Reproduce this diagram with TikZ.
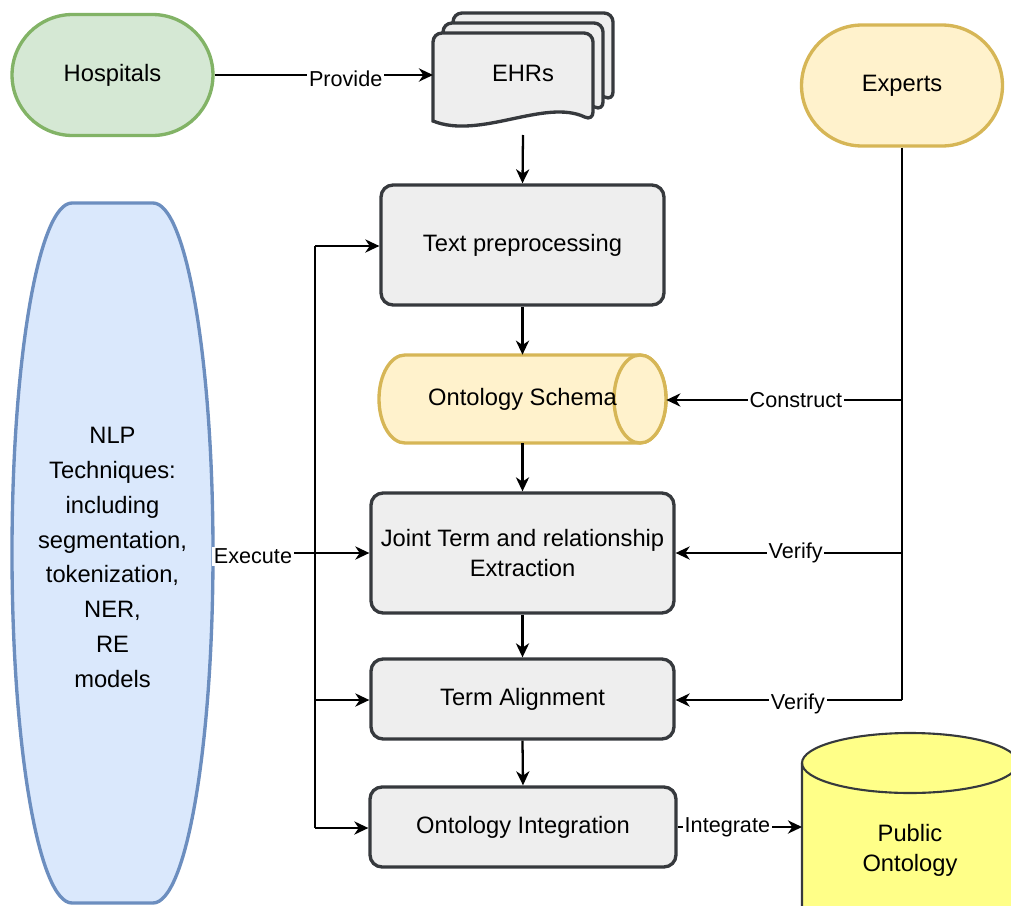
\documentclass[tikz,border=0pt]{standalone}
\usepackage{fontspec}
\setmainfont{Liberation Sans}
\usetikzlibrary{shapes.misc,arrows.meta}

\definecolor{grayfill}{HTML}{EEEEEE}
\definecolor{grayline}{HTML}{36393D}
\definecolor{greenfill}{HTML}{D5E8D4}
\definecolor{greenline}{HTML}{82B366}
\definecolor{yellowfill}{HTML}{FFF2CC}
\definecolor{yellowline}{HTML}{D6B656}
\definecolor{bluefill}{HTML}{DAE8FC}
\definecolor{blueline}{HTML}{6C8EBF}
\definecolor{pubfill}{HTML}{FFFF88}

\newcommand\bigtxt{\fontsize{13.5}{17}\selectfont}
\newcommand\nlptxt{\fontsize{13.5}{19.8}\selectfont}
\newcommand\lbltxt{\fontsize{12.3}{14}\selectfont}

\begin{document}
\begin{tikzpicture}[x=0.02cm,y=-0.02cm,
  every node/.style={font=\bigtxt, align=center, inner sep=0pt},
  box/.style={draw=grayline, fill=grayfill, line width=1.9pt,
    rounded corners=0.24cm},
  pill/.style={rounded rectangle, line width=1.9pt,
    minimum width=4.02cm, minimum height=2.42cm},
  doc/.style={draw=grayline, fill=grayfill, line width=1.9pt},
  ln/.style={line width=1.3pt},
  conn/.style={line width=1.3pt, -{Stealth[length=8pt,width=7.5pt,inset=2.5pt]}},
  lbl/.style={fill=white, font=\lbltxt, inner sep=1pt}]

\useasboundingbox (0,0) rectangle (1011,906);
\clip (0,0) rectangle (1011,906);

% sources
\node[pill, draw=greenline, fill=greenfill] (hosp) at (112.5,75) {Hospitals};
\node[pill, draw=yellowline, fill=yellowfill] (exp) at (902,85.5) {Experts};

% stack of EHR documents
\foreach \d in {20,10,0}{
  \begin{scope}[shift={(\d,-\d)}]
    \path[doc] (433,121) [rounded corners=0.18cm] -- (433,33) -- (593,33)
      -- (593,121) [sharp corners] .. controls (545,98) and (480,140) .. (433,121) -- cycle;
  \end{scope}
}
\node (ehr) at (523,73) {EHRs};
\coordinate (ehrW) at (433,75);
\coordinate (ehrS) at (523,135);

% processing steps
\node[box, minimum width=5.66cm, minimum height=2.4cm] (prep) at (522.5,245) {Text preprocessing};

% ontology schema (horizontal cylinder)
\path[draw=yellowline, fill=yellowfill, line width=1.9pt]
  (640,355) -- (405,355) arc[start angle=270, end angle=90, x radius=26, y radius=44]
  -- (640,443) arc[start angle=90, end angle=-90, x radius=26, y radius=44] -- cycle;
\path[draw=yellowline, fill=yellowfill, line width=1.9pt]
  (640,399) ellipse [x radius=26, y radius=44];
\node[minimum width=5.74cm, minimum height=1.76cm] (schema) at (522.5,399) {Ontology Schema};

\node[box, minimum width=6.06cm, minimum height=2.4cm] (joint) at (522.5,553)
  {Joint Term and relationship\\Extraction};
\node[box, minimum width=6.06cm, minimum height=1.6cm] (align) at (522.5,699) {Term Alignment};
\node[box, minimum width=6.12cm, minimum height=1.6cm] (integ) at (523,827) {Ontology Integration};

% public ontology (vertical cylinder)
\path[draw=grayline, fill=pubfill, line width=1.2pt]
  (802,763) -- (802,935) arc[start angle=180, end angle=0, x radius=108, y radius=30]
  -- (1018,763) arc[start angle=0, end angle=-180, x radius=108, y radius=30] -- cycle;
\draw[grayline, line width=1.2pt]
  (802,763) arc[start angle=180, end angle=0, x radius=108, y radius=30];
\node (pub) at (910,850) {Public\\Ontology};
\coordinate (pubW) at (802,827);

% NLP techniques
\path[draw=blueline, fill=bluefill, line width=1.9pt]
  (72,203) -- (153,203)
  arc[start angle=-90, end angle=0, x radius=60, y radius=350]
  arc[start angle=0, end angle=90, x radius=60, y radius=350]
  -- (72,903)
  arc[start angle=90, end angle=180, x radius=60, y radius=350]
  arc[start angle=180, end angle=270, x radius=60, y radius=350] -- cycle;
\node[font=\nlptxt, minimum width=4.02cm, minimum height=14cm] (nlp) at (112.5,557.5)
  {NLP\\Techniques:\\including\\segmentation,\\tokenization,\\NER,\\RE\\models};

% main flow
\draw[conn] (hosp.east) -- node[lbl, pos=0.6, yshift=-2pt] {Provide} (ehrW);
\draw[conn] (ehrS) -- (prep.north);
\draw[conn] (prep.south) -- (schema.north);
\draw[conn] (schema.south) -- (joint.north);
\draw[conn] (joint.south) -- (align.north);
\draw[conn] (align.south) -- (integ.north);
\draw[conn] (integ.east) -- node[lbl, pos=0.4] {Integrate} (pubW);

% experts feedback
\coordinate (e1) at (902,400);
\coordinate (e2) at (902,553);
\coordinate (e3) at (902,700);
\draw[ln] (exp.south) -- (e3);
\draw[conn] (e1) -- node[lbl, pos=0.45] {Construct} (schema.east |- e1);
\draw[conn] (e2) -- node[lbl, pos=0.47] {Verify} (joint.east);
\draw[conn] (e3) -- node[lbl, pos=0.46, yshift=-2pt] {Verify} (align.east |- e3);

% NLP execution
\coordinate (t1) at (315,246);
\coordinate (t2) at (315,553);
\coordinate (t3) at (315,700);
\coordinate (t4) at (315,828);
\draw[ln] (t1) -- (t4);
\draw[ln] (nlp.east |- t2) -- node[lbl, pos=0.39, yshift=-2pt] {Execute} (t2);
\draw[conn] (t1) -- (prep.west |- t1);
\draw[conn] (t2) -- (joint.west);
\draw[conn] (t3) -- (align.west |- t3);
\draw[conn] (t4) -- (integ.west |- t4);
\end{tikzpicture}
\end{document}
